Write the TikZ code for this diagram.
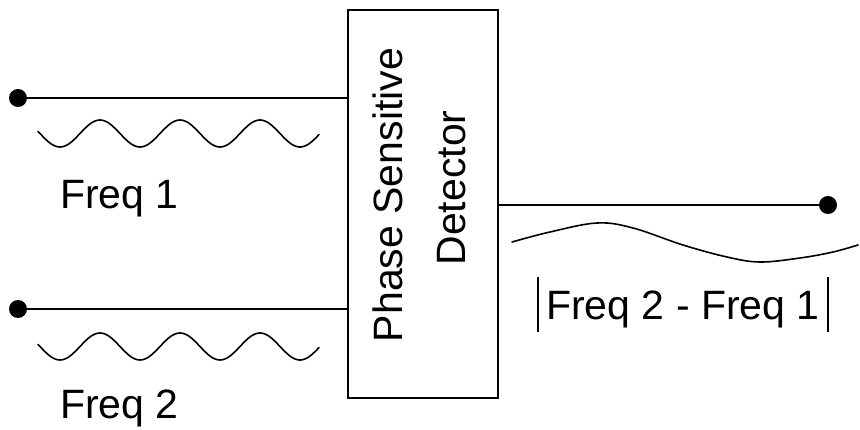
\documentclass[tikz,border=0pt]{standalone}
\usepackage{fontspec}
\setmainfont{Liberation Sans}
\begin{document}
\begin{tikzpicture}[x=1pt,y=-1pt,
  wire/.style={line width=1.2pt},
  wave/.style={line width=1.6pt, line join=round, line cap=round},
  terminal/.style={circle, fill=black, inner sep=0pt, minimum size=18pt},
  lbl/.style={font=\fontsize{41}{49}\selectfont, inner sep=0pt},
  ]
\useasboundingbox (0,0) rectangle (860,430);

% detector block
\node[draw, line width=1.5pt, minimum width=150pt, minimum height=388pt, inner sep=0pt] (psd) at (423,204) {};
\node[lbl, rotate=90, anchor=base] (t1) at (402,195) {Phase Sensitive};
\node[lbl, rotate=90, anchor=base] (t2) at (465,188) {Detector};

% terminals
\node[terminal] (in1) at (18,98) {};
\node[terminal] (in2) at (18,309) {};
\node[terminal] (out) at (828,205) {};

% wires
\draw[wire] (in1) -- (in1 -| psd.west);
\draw[wire] (in2) -- (in2 -| psd.west);
\draw[wire] (out -| psd.east) -- (out);

% input signals
\draw[wave] plot[domain=38:319, samples=141] (\x, {133.5+13.5*sin(4.5*(\x-40))});
\draw[wave] plot[domain=38:319, samples=141] (\x, {346.5+13.5*sin(4.5*(\x-40))});

% output (difference frequency) signal
\draw[wave] plot[smooth, tension=0.6] coordinates {(512,242) (550,232) (597,223) (633,228) (683,245) (727,257) (760,262) (800,258) (833,252) (858,245)};

% labels
\node[lbl, anchor=base west] (f1) at (60,209) {Freq 1};
\node[lbl, anchor=base west] (f2) at (60,418) {Freq 2};
\node[lbl, anchor=base, inner xsep=8pt] (diff) at (683,320) {\rule[-12pt]{0pt}{55pt}Freq 2 - Freq 1};
\draw[wire] (diff.north west) -- (diff.south west);
\draw[wire] (diff.north east) -- (diff.south east);
\end{tikzpicture}
\end{document}
